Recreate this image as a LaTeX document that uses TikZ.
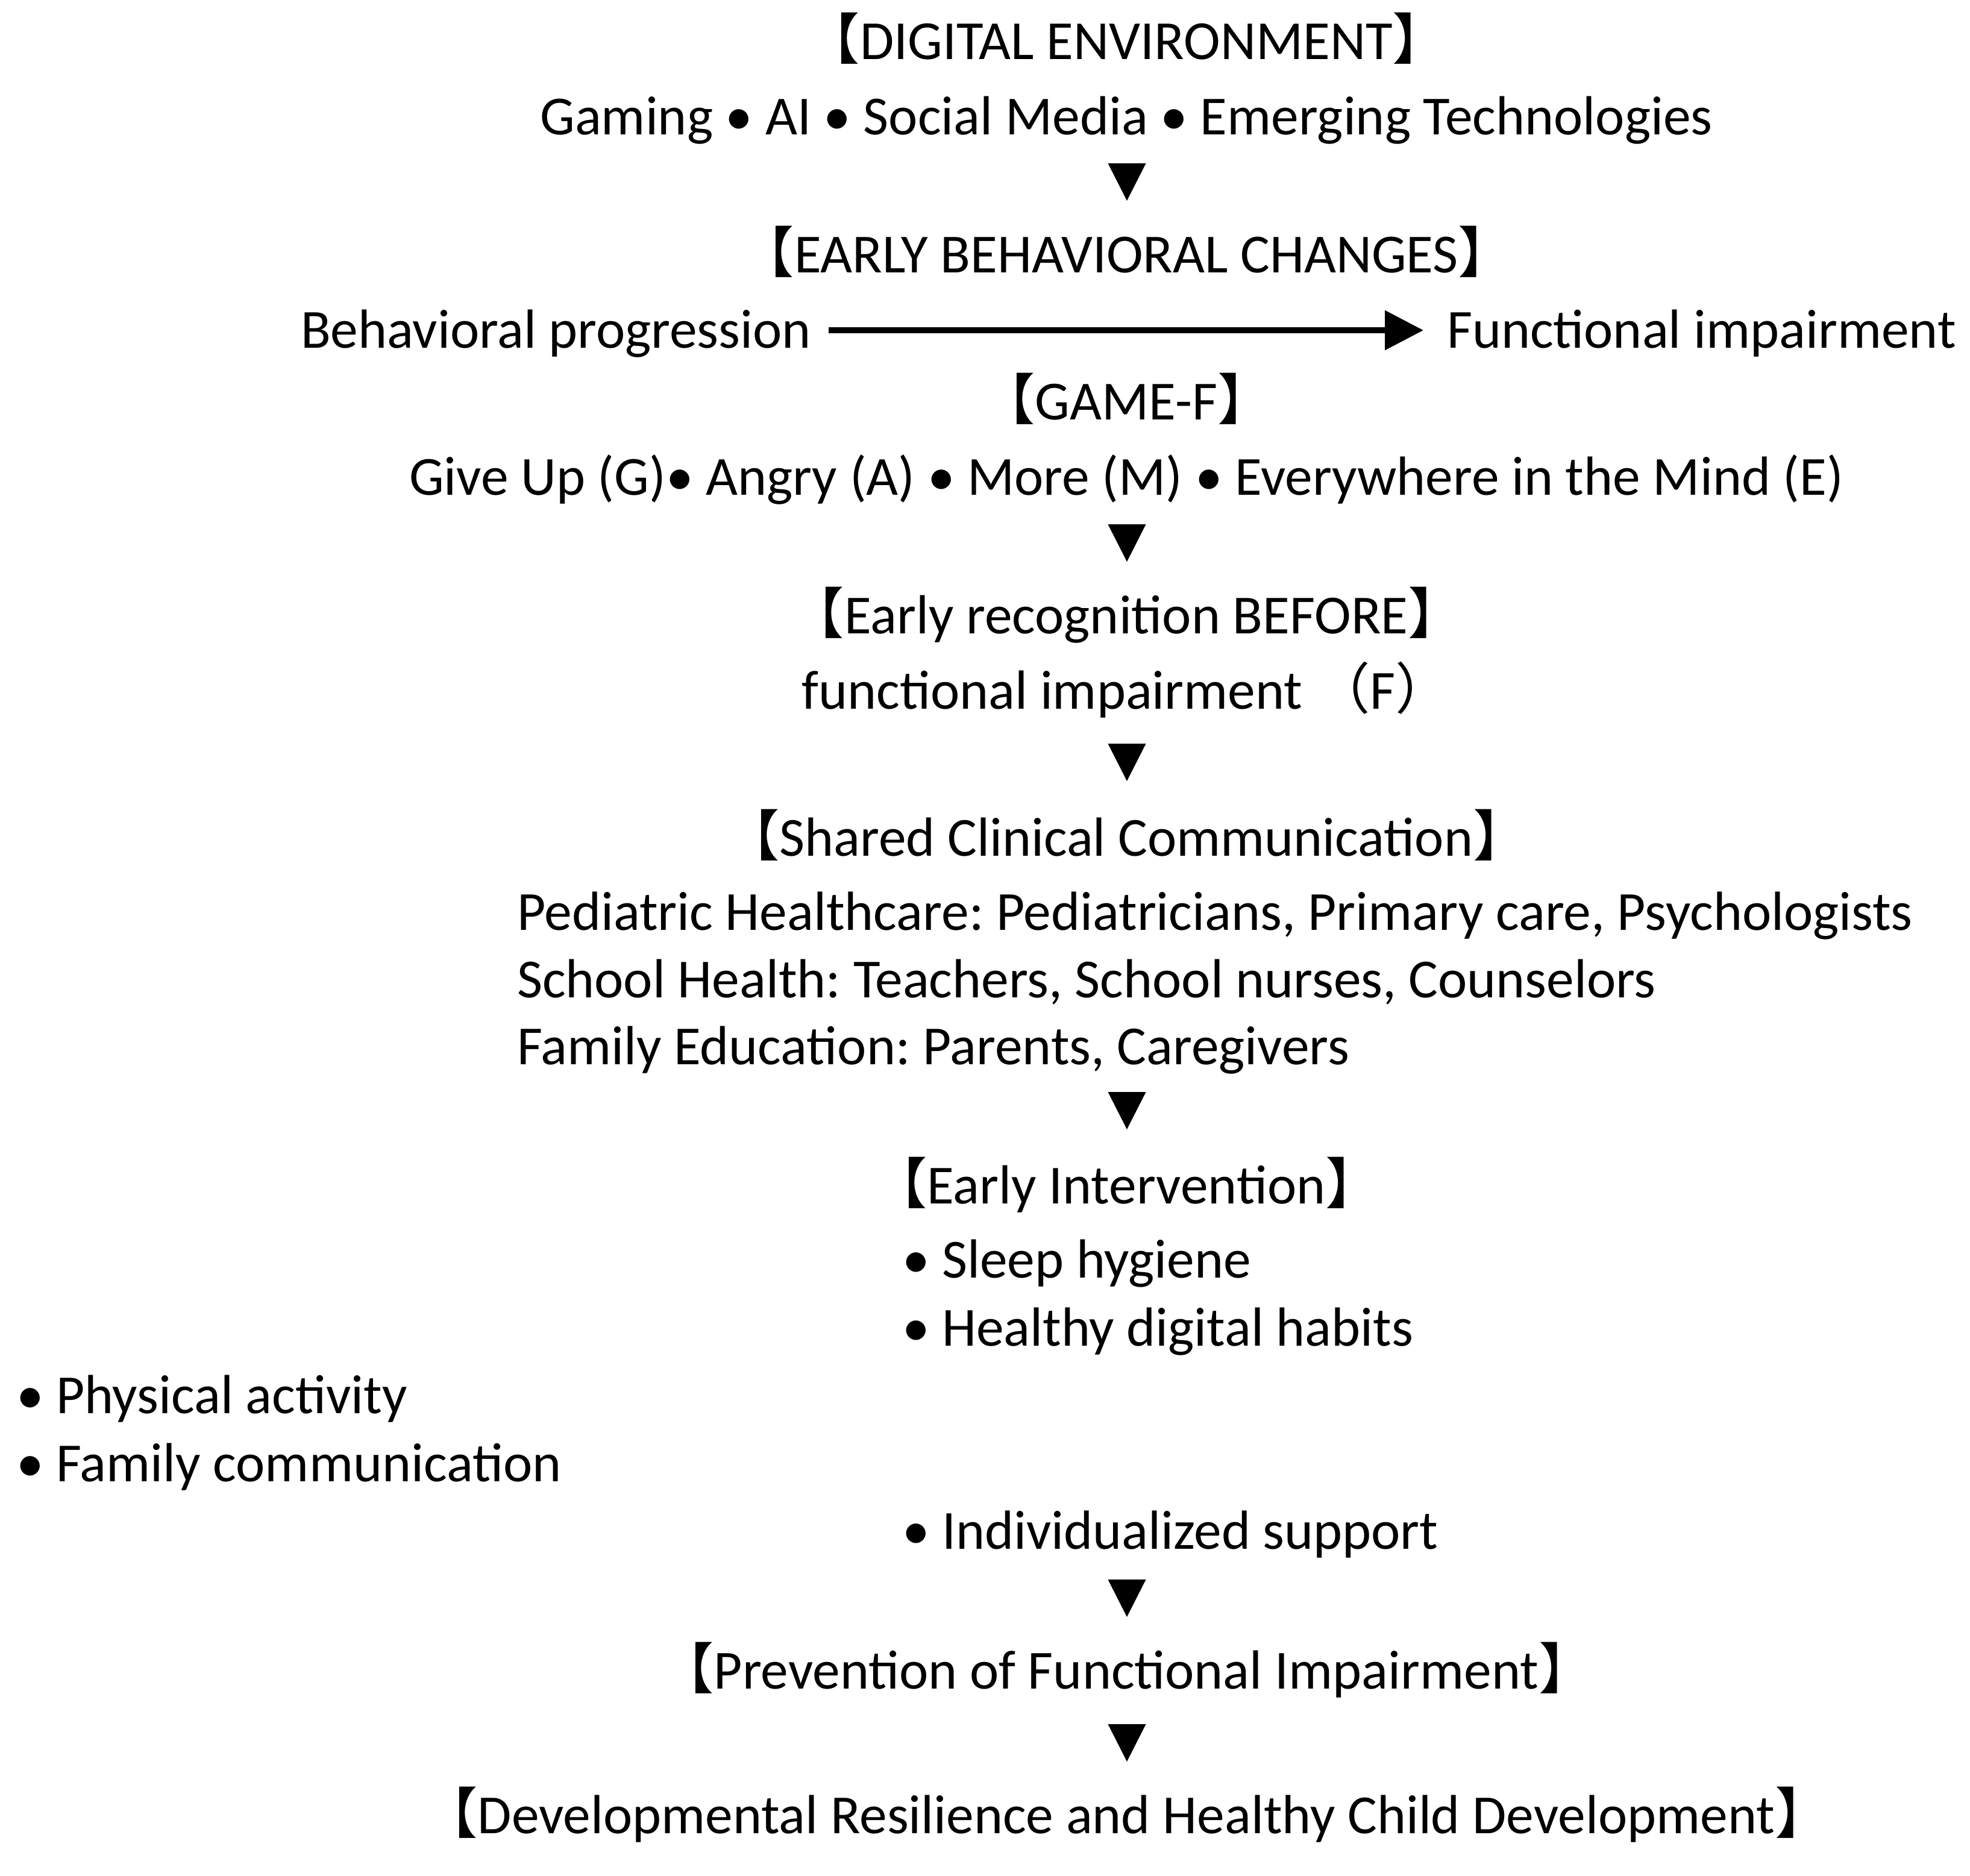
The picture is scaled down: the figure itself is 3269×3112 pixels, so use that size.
\documentclass[tikz,border=0pt]{standalone}
\usepackage{fontspec}
\setmainfont{Carlito}
\newfontfamily\cjkfont{Noto Sans CJK JP}
\newcommand\LB{{\cjkfont 【}}
\newcommand\RB{{\cjkfont 】}}
\newcommand\LPF{{\cjkfont （}}
\newcommand\RPF{{\cjkfont ）}}
\usetikzlibrary{arrows.meta,calc}
\frenchspacing
\tikzset{
  txt/.style={inner sep=0pt, anchor=base, font=\fontsize{18.3pt}{22pt}\selectfont},
  ltxt/.style={txt, anchor=base west},
  arrowline/.style={line width=1.9pt, -{Triangle[length=12.8pt 0 0,width=12.8pt 0 0]}},
  pics/downtri/.style={code={\fill[black] (-31.5,-31) -- (31.5,-31) -- (0,31) -- cycle;}}
}
\begin{document}
\begin{tikzpicture}[x=0.2pt,y=-0.2pt]
\useasboundingbox (0,0) rectangle (3269,3112);
\node[txt] (h1) at (1869,98) {\LB DIGITAL ENVIRONMENT\RB};
\node[txt] (l2) at (1869,223) {Gaming • AI • Social Media • Emerging Technologies};
\pic at (1870,302) {downtri};
\node[txt] (h2) at (1869,452) {\LB EARLY BEHAVIORAL CHANGES\RB};
\node[ltxt] (bp) at (498,577) {Behavioral progression};
\node[ltxt] (fi) at (2400,577) {Functional impairment};
\draw[arrowline] ($(bp.base east)+(28,-29)$) -- ($(fi.base west)+(-38,-29)$);
\node[txt] (h3) at (1869,696) {\LB GAME-F\RB};
\node[txt] (l7) at (1869,821) {Give Up (G)• Angry (A) • More (M) • Everywhere in the Mind (E)};
\pic at (1870,901) {downtri};
\node[txt] (h4) at (1869,1051) {\LB Early recognition BEFORE\RB};
\node[txt] (l10) at (1869,1176) {functional impairment \LPF F\RPF};
\pic at (1870,1265) {downtri};
\node[txt] (h5) at (1869,1420) {\LB Shared Clinical Communication\RB};
\node[ltxt] (p1) at (857,1543) {Pediatric Healthcare: Pediatricians, Primary care, Psychologists};
\node[ltxt] (p2) at (857,1655) {School Health: Teachers, School nurses, Counselors};
\node[ltxt] (p3) at (857,1766) {Family Education: Parents, Caregivers};
\pic at (1870,1843) {downtri};
\node[txt] (h6) at (1869,1997) {\LB Early Intervention\RB};
\node[ltxt] (b1) at (1496,2120) {• Sleep hygiene};
\node[ltxt] (b2) at (1496,2233) {• Healthy digital habits};
\node[ltxt] (b3) at (26,2345) {• Physical activity};
\node[ltxt] (b4) at (26,2458) {• Family communication};
\node[ltxt] (b5) at (1496,2570) {• Individualized support};
\pic at (1870,2652) {downtri};
\node[txt] (h7) at (1869,2802) {\LB Prevention of Functional Impairment\RB};
\pic at (1870,2892) {downtri};
\node[txt] (h8) at (1869,3042) {\LB Developmental Resilience and Healthy Child Development\RB};
\end{tikzpicture}
\end{document}
